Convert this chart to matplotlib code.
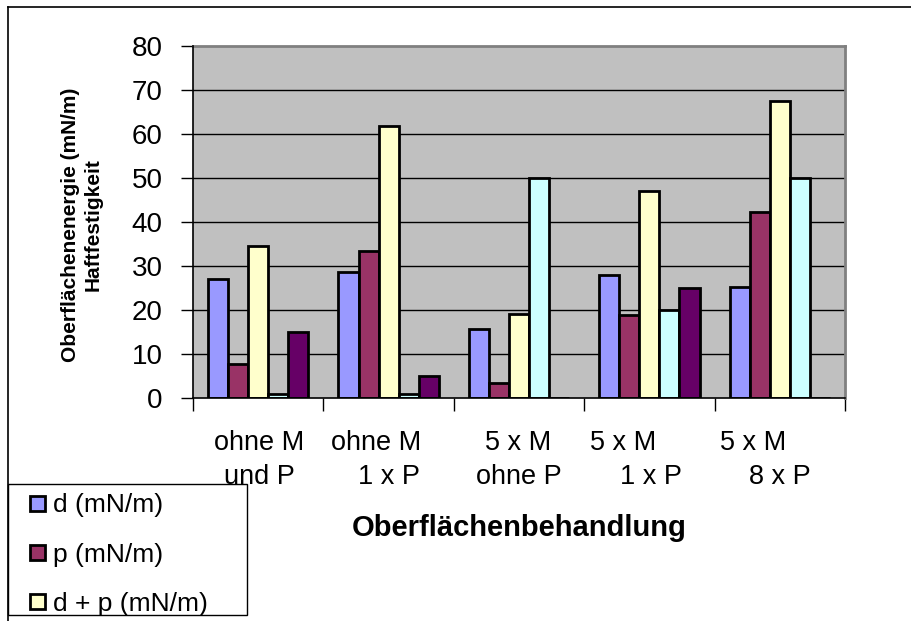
import numpy as np
import matplotlib.pyplot as plt
from matplotlib.patches import Rectangle, Patch
from matplotlib.lines import Line2D

plt.rcParams['font.family'] = ['Liberation Sans', 'DejaVu Sans']

# Oberflächenbehandlung (two lines per category)
labels_top = ["ohne M", "ohne M", "5 x M", "5 x M", "5 x M"]
labels_bottom = ["und P", "1 x P", "ohne P", "1 x P", "8 x P"]

d_vals = [27.0, 28.7, 15.6, 27.9, 25.2]
p_vals = [7.7, 33.4, 3.5, 18.9, 42.3]
dp_vals = [34.6, 61.9, 19.1, 47.0, 67.5]
haft_1 = [1.0, 1.0, 50.0, 20.0, 50.0]
haft_2 = [15.0, 5.0, 0.0, 25.0, 0.0]

series = [d_vals, p_vals, dp_vals, haft_1, haft_2]
names = ["d (mN/m)", "p (mN/m)", "d + p (mN/m)", "Haftfestigkeit 1", "Haftfestigkeit 2"]
colors = ["#9999FF", "#993366", "#FFFFCC", "#CCFFFF", "#660066"]

W, H = 912, 621
fig = plt.figure(figsize=(W / 100, H / 100), dpi=100)
ax = fig.add_axes([193 / W, 1 - 398 / H, (845 - 193) / W, (398 - 46) / H])
ax.set_facecolor("#C0C0C0")

n = len(labels_top)
x = np.arange(n)
bw = 1 / 6.5
for k, vals in enumerate(series):
    ax.bar(x + (k - 2) * bw, vals, width=bw, color=colors[k],
           edgecolor="black", linewidth=2.0, zorder=3)

ax.set_xlim(-0.5, n - 0.5)
ax.set_ylim(0, 80)
ax.set_yticks(np.arange(0, 81, 10))
ax.tick_params(axis='y', labelsize=20, length=9, width=1, pad=13, direction='out')
for yv in range(10, 80, 10):
    ax.axhline(yv, color="black", linewidth=1, zorder=1)

# category boundaries as ticks, labels drawn separately
ax.set_xticks(np.arange(-0.5, n, 1))
ax.set_xticklabels([])
ax.tick_params(axis='x', length=9, width=1, direction='out')

for side in ["top", "right"]:
    ax.spines[side].set_color("#808080")
    ax.spines[side].set_linewidth(2)
for side in ["left", "bottom"]:
    ax.spines[side].set_color("black")
    ax.spines[side].set_linewidth(1.2)
    ax.spines[side].set_zorder(4)

shift_top = [1, -12, -1, -26, -27]
shift_bottom = [1, 0, 0, 2, 0]
for i in range(n):
    ax.annotate(labels_top[i], xy=(i, 0), xycoords=('data', 'axes fraction'),
                xytext=(shift_top[i], -45), textcoords='offset pixels',
                ha='center', va='center', fontsize=19.5)
    ax.annotate(labels_bottom[i], xy=(i, 0), xycoords=('data', 'axes fraction'),
                xytext=(shift_bottom[i], -79), textcoords='offset pixels',
                ha='center', va='center', fontsize=19.5)

fig.text(519 / W, 1 - 528 / H, "Oberflächenbehandlung", ha='center', va='center',
         fontsize=21, fontweight='bold')
fig.text(82 / W, 1 - 225 / H, "Oberflächenenergie (mN/m)\nHaftfestigkeit",
         ha='center', va='center', rotation=90, fontsize=15, fontweight='bold',
         linespacing=1.25)

# outer chart frame
fig.add_artist(Line2D([8 / W, 8 / W], [0, 1 - 7 / H], color="black", linewidth=1.2))
fig.add_artist(Line2D([8 / W, 1], [1 - 7 / H, 1 - 7 / H], color="black", linewidth=1.2))

# legend box (only three entries fit)
fig.add_artist(Rectangle((8 / W, 1 - 615 / H), (247 - 8) / W, (615 - 484) / H,
                         transform=fig.transFigure, facecolor="white",
                         edgecolor="black", linewidth=1, zorder=5))
handles = [Patch(facecolor=colors[k], edgecolor="black", linewidth=2.0) for k in range(3)]
leg = fig.legend(handles, names[:3], loc='upper left',
                 bbox_to_anchor=(12 / W, 1 - 475 / H), frameon=False,
                 fontsize=19, handlelength=0.55, handleheight=0.5,
                 handletextpad=0.3, labelspacing=0.95, borderpad=0.2)
leg.set_zorder(6)

fig.savefig("out.png", dpi=100)
